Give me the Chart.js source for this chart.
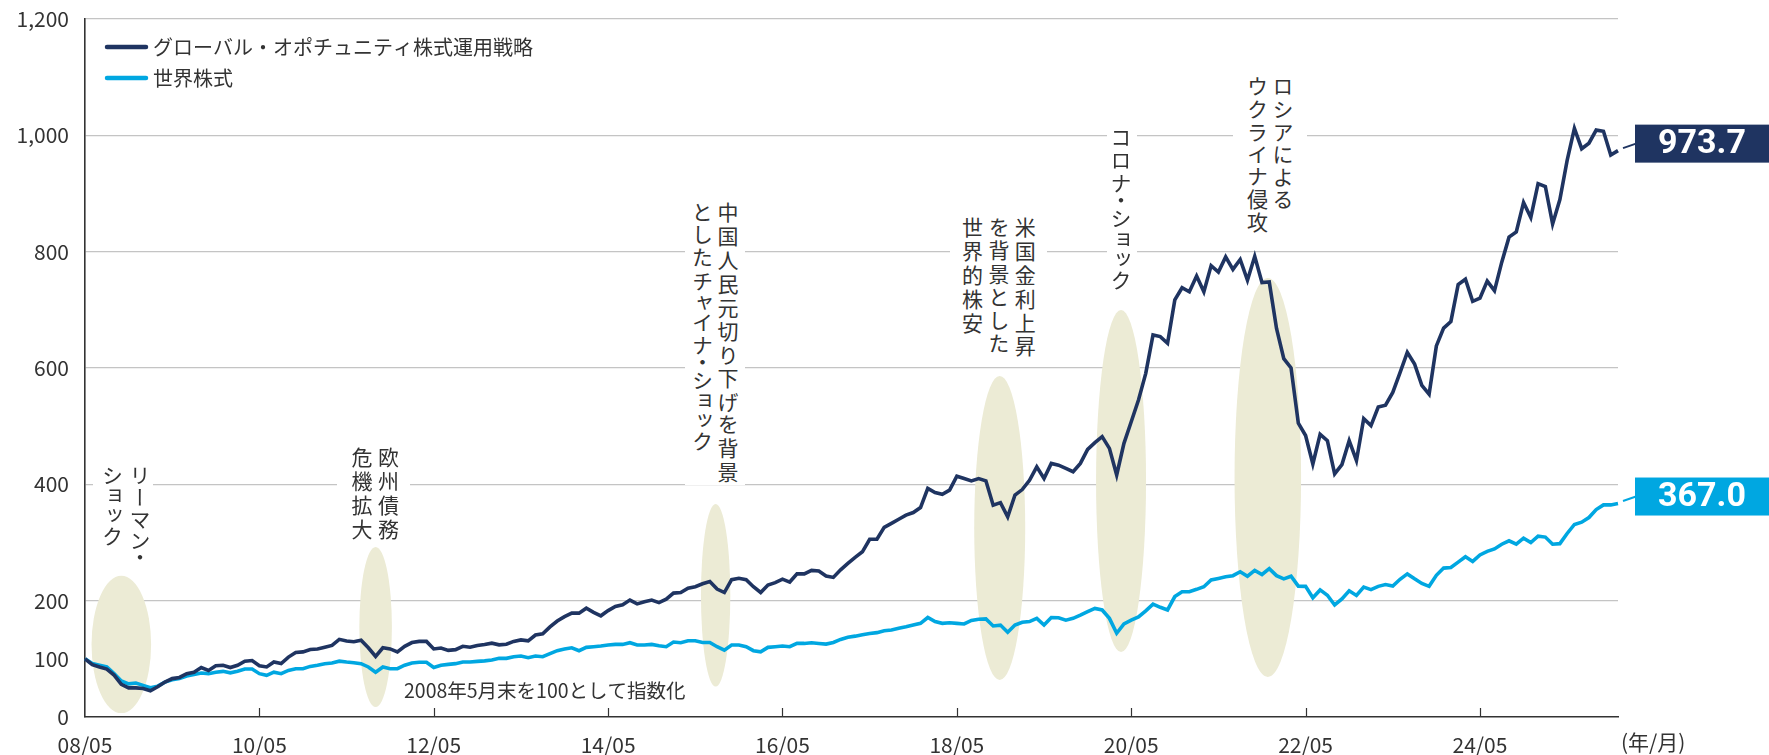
<!DOCTYPE html>
<html>
<head>
<meta charset="utf-8">
<script src="https://cdn.jsdelivr.net/npm/chart.js@4"></script>
<style>
html,body{margin:0;padding:0;background:#fff;}
#wrap{position:relative;width:1769px;height:755px;overflow:hidden;background:#fff;}
#c{position:absolute;left:0;top:0;}
.note{position:absolute;writing-mode:vertical-rl;font-family:"Noto Sans CJK JP",sans-serif;font-size:21px;letter-spacing:2.8px;color:#333;background:#fff;white-space:pre;font-feature-settings:"vpal";}
</style>
</head>
<body>
<div id="wrap"><canvas id="c" width="1769" height="755"></canvas></div>
<script>
// ---- categories (monthly, 2008/05 - 2025/12) ----
const startYear = 2008, startMonth = 5, nPoints = 212;
const months = [];
for (let i = 0; i < nPoints; i++) {
  const t = startMonth - 1 + i;
  const y = startYear + Math.floor(t / 12), m = t % 12 + 1;
  months.push(String(y % 100).padStart(2, '0') + '/' + String(m).padStart(2, '0'));
}
const xTickLabels = ['08/05','10/05','12/05','14/05','16/05','18/05','20/05','22/05','24/05'];
const yTicks = [0, 100, 200, 400, 600, 800, 1000, 1200];

const seriesNames = ['グローバル・オポチュニティ株式運用戦略', '世界株式'];

const strategy = [
100,90,86,82.5,72,56,50,50,49,45,52,60,66,68,74.5,77,85,80,88,89,
85,89,96,97,88,86,94.5,92,103,111,112,116,117,120,123,133.5,130.6,129.5,132,119,
104,119,117,112,121.5,128,130,130,117,118.6,114.6,115.8,121.5,120,123,124.5,127,124,125,130,
132.5,131,141,143,155,165,172.5,178.5,178.5,187,180,174,183,190,193,201,194.5,198,201,196.6,
202.5,213,214,221.5,224,229,233,220,214,236,238.5,236,224,214,227,231,237,232,246,246,
252,251,242.5,240,253,264,274.5,284,305.6,305.6,326,333,340,347,351.5,360,393,386,383,390,
414,410,406,410,406,364,368.5,344,381.6,391,407,430,410,436,433,427.5,421.7,436,460,471.6,
482,461.8,416,470.5,507.6,545,590.8,656.8,654,642.6,717,738,731,758,731,776,765,791,769.5,786.6,
751,792,747,748,668,616,600,505,484,435,486,475,418,434,475,441,513,501,533,536,
558,592,627,607,570,555,638,668.5,680,743.4,752.6,714.5,720,749.5,733,782,825,834,884.6,858.8,
917,912,847.7,889.5,957,1012,977,986.5,1009,1007,966,973.7
];

const world = [
100,92,89,86,74.5,62,57,58.5,54.4,50.4,53,60,64,66,70.5,73,75.6,74.5,77,78.5,
76,78.5,82.5,82.5,74.5,71.6,77,74.5,80,83,83,87,89,91.7,92.8,96,94.5,93.4,91.7,86,
77,86,83,83,89,92.8,94,94,85,89,90.5,91.7,94.5,94.5,95.7,96.5,98,100.8,100.8,103.7,
104.8,102,104.8,103.7,109,114,116.8,119,114,119.7,120.8,122,123.7,124.8,124.8,127.7,123.7,123.7,124.8,122.5,
120.8,128.8,127.7,131,131,128.2,128.2,120.8,115,123.7,123.7,120.8,114,112,119.7,120.8,122,120.8,126.5,126.5,
127.7,126.5,125.4,128.2,133.4,137,139,141.5,143.7,145,148.3,149.5,152.5,155,158,161,171,164,161,162,
161,160,166,168,168.6,156.5,158,145.6,158,162.8,164,169.6,158,171,170.5,166.5,169.6,175,181,186.7,
184,169.6,144,160,166.5,172,182.6,194,188.6,184,207,215.4,215.4,219.5,224,235.5,238.3,241,243,249.7,
242,252,245,255,243,237.5,242,225,224.6,205,218.5,209.3,192.6,203,217,209,223.4,219,224.6,227.6,
225,236.8,246,237.5,229.5,224.6,243.6,256,257,266.3,275.5,267.5,278.6,284.7,289,297,303,297,307.5,300,
311,309.3,297,298,315.5,331,335,343,356.6,364.6,364.6,367.0
];

// ---- event shading: centre (month index, value) and half-sizes ----
const eventCentreIdx = [5.0, 40.0, 86.8, 125.9, 142.6, 162.8];
const eventCentreVal = [124.7, 154.8, 209.3, 325, 405.8, 411.9];
const eventHalfMonths = [4.1, 2.24, 2.02, 3.51, 3.44, 4.58];
const eventHalfVal = [118, 137.6, 157, 261.4, 294, 343];

// ---- event notes (vertical text) ----
const noteTexts = ['リーマン・\nショック', '欧州債務\n危機拡大', '中国人民元切り下げを背景\nとしたチャイナ・ショック',
  '米国金利上昇\nを背景とした\n世界的株安', 'コロナ・ショック', 'ロシアによる\nウクライナ侵攻'];
const noteLeft = [93, 336.7, 685, 950, 1106.7, 1233];
const noteTop = [465, 447, 202, 217, 127, 76];
const noteLH = [27.5, 26.6, 25.6, 26.3, 26, 25.6];
const notePadL = [5, 11.7, 3.9, 9.3, 1.3, 10.9];
const notePadR = [0, 8.4, 4.9, 8.8, 2.7, 11.6];

const footNote = '2008年5月末を100として指数化';
const unitLabel = '(年/月)';

const NAVY = '#1f3461';
const BLUE = '#00a7e1';
const TEXT = '#333333';
const JP = '"Noto Sans CJK JP", sans-serif';

const wrap = document.getElementById('wrap');
noteTexts.forEach((t, i) => {
  const d = document.createElement('div');
  d.className = 'note';
  d.textContent = t;
  d.style.left = noteLeft[i] + 'px';
  d.style.top = noteTop[i] + 'px';
  d.style.lineHeight = noteLH[i] + 'px';
  d.style.paddingLeft = notePadL[i] + 'px';
  d.style.paddingRight = notePadR[i] + 'px';
  wrap.appendChild(d);
});

const ellipsePlugin = {
  id: 'ellipses',
  beforeDatasetsDraw(chart) {
    const {ctx, scales: {x, y}} = chart;
    ctx.save();
    ctx.fillStyle = 'rgb(236,235,213)';
    eventCentreIdx.forEach((ci, i) => {
      const cx = x.getPixelForValue(ci);
      const cy = y.getPixelForValue(eventCentreVal[i]);
      const rx = Math.abs(x.getPixelForValue(ci + eventHalfMonths[i]) - cx);
      const ry = Math.abs(y.getPixelForValue(eventCentreVal[i] + eventHalfVal[i]) - cy);
      ctx.beginPath();
      ctx.ellipse(cx, cy, rx, ry, 0, 0, Math.PI * 2);
      ctx.fill();
    });
    ctx.restore();
  }
};

const decorPlugin = {
  id: 'decor',
  afterDatasetsDraw(chart) {
    const {ctx, chartArea, scales: {x}} = chart;
    ctx.save();
    // inward x tick marks
    ctx.strokeStyle = TEXT;
    ctx.lineWidth = 1.2;
    months.forEach((m, i) => {
      if (i > 0 && xTickLabels.includes(m)) {
        const px = Math.round(x.getPixelForValue(i)) + 0.5;
        ctx.beginPath();
        ctx.moveTo(px, chartArea.bottom);
        ctx.lineTo(px, chartArea.bottom - 9);
        ctx.stroke();
      }
    });
    // end value labels
    chart.data.datasets.forEach((ds, i) => {
      const meta = chart.getDatasetMeta(i);
      const pt = meta.data[meta.data.length - 1];
      const val = ds.data[ds.data.length - 1];
      const by = pt.y - 7;
      const bx = chartArea.right + 17;
      ctx.strokeStyle = ds.borderColor;
      ctx.lineWidth = 2;
      ctx.beginPath();
      ctx.moveTo(pt.x + 5, pt.y - 2.5);
      ctx.lineTo(bx + 1, by);
      ctx.stroke();
      ctx.fillStyle = ds.borderColor;
      ctx.fillRect(bx, by - 19, chart.width - bx, 38);
      ctx.fillStyle = '#fff';
      ctx.font = 'bold 34px Roboto, "Noto Sans", sans-serif';
      ctx.textAlign = 'center';
      ctx.textBaseline = 'middle';
      ctx.fillText(val.toFixed(1), bx + 67, by + 1);
    });
    // legend
    chart.data.datasets.forEach((ds, i) => {
      const ly = 47 + i * 31;
      ctx.strokeStyle = ds.borderColor;
      ctx.lineWidth = 4.5;
      ctx.lineCap = 'round';
      ctx.beginPath();
      ctx.moveTo(107, ly);
      ctx.lineTo(146, ly);
      ctx.stroke();
      ctx.fillStyle = TEXT;
      ctx.font = '20px ' + JP;
      ctx.textAlign = 'left';
      ctx.textBaseline = 'middle';
      ctx.fillText(ds.label, 153, ly);
    });
    // foot note & unit
    ctx.fillStyle = TEXT;
    ctx.font = '19.5px ' + JP;
    ctx.textAlign = 'left';
    ctx.textBaseline = 'middle';
    ctx.fillText(footNote, 404, 691);
    ctx.font = '21px ' + JP;
    ctx.fillText(unitLabel, chartArea.right + 3, 742);
    ctx.restore();
  }
};

new Chart(document.getElementById('c'), {
  type: 'line',
  data: {
    labels: months,
    datasets: [
      {label: seriesNames[0], data: strategy, borderColor: NAVY, backgroundColor: NAVY, borderWidth: 3.6, pointRadius: 0, tension: 0, borderJoinStyle: 'miter'},
      {label: seriesNames[1], data: world, borderColor: BLUE, backgroundColor: BLUE, borderWidth: 3.6, pointRadius: 0, tension: 0, borderJoinStyle: 'miter'}
    ]
  },
  options: {
    responsive: false,
    devicePixelRatio: 1,
    animation: false,
    events: [],
    layout: {padding: {top: 19, right: 151, left: 0, bottom: 0}},
    plugins: {legend: {display: false}, tooltip: {enabled: false}, title: {display: false}},
    scales: {
      x: {
        type: 'category',
        offset: false,
        grid: {display: false, drawTicks: false},
        border: {display: true, color: TEXT, width: 1.6},
        ticks: {
          autoSkip: false, maxRotation: 0, minRotation: 0, padding: 15,
          color: TEXT, font: {family: JP, size: 21},
          callback(val) { const l = this.getLabelForValue(val); return xTickLabels.includes(l) ? l : null; }
        },
        afterFit(scale) { scale.height = 38; scale.paddingLeft = 0; scale.paddingRight = 0; }
      },
      y: {
        min: 0, max: 1200,
        afterBuildTicks(scale) { scale.ticks = yTicks.map(v => ({value: v})); },
        grid: {
          color: c => (c.tick && c.tick.value >= 200) ? '#c4c4c4' : 'rgba(0,0,0,0)',
          lineWidth: 1.3, drawTicks: false
        },
        border: {display: true, color: TEXT, width: 1.6},
        ticks: {
          padding: 16, color: TEXT, font: {family: JP, size: 21},
          callback: v => v.toLocaleString('en-US')
        },
        afterFit(scale) { scale.width = 85; scale.paddingTop = 0; scale.paddingBottom = 0; }
      }
    }
  },
  plugins: [ellipsePlugin, decorPlugin]
});
</script>
</body>
</html>
